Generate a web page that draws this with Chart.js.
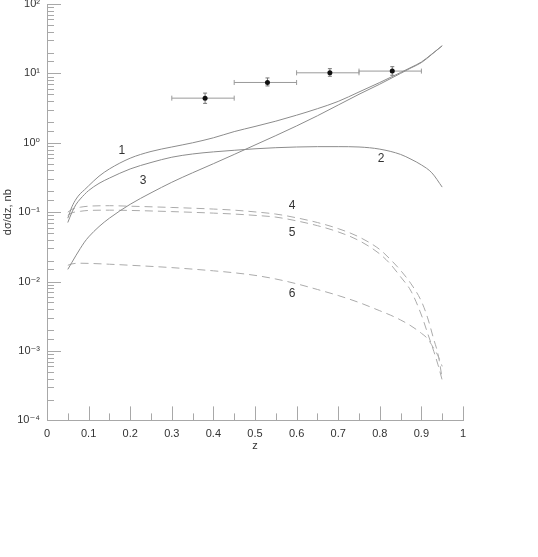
<!DOCTYPE html>
<html><head><meta charset="utf-8">
<script src="https://cdn.jsdelivr.net/npm/chart.js@4/dist/chart.umd.min.js"></script>
<style>html,body{margin:0;padding:0;background:#fff}#c{display:block}</style>
</head><body>
<canvas id="c" width="538" height="557"></canvas>
<script>
// ---- data ----
const zSolid = [0.05, 0.06, 0.07, 0.08, 0.09, 0.1, 0.125, 0.15, 0.2, 0.25, 0.3, 0.35, 0.4, 0.45, 0.5, 0.55, 0.6, 0.65, 0.7, 0.75, 0.8, 0.85, 0.875, 0.9, 0.925, 0.95];
const curve1 = [0.082, 0.12, 0.155, 0.185, 0.21, 0.24, 0.33, 0.42, 0.6, 0.75, 0.87, 1.0, 1.18, 1.45, 1.72, 2.05, 2.5, 3.1, 3.95, 5.4, 7.4, 10.3, 12.2, 14.6, 19.0, 25.0];
const curve2 = [0.071, 0.1, 0.13, 0.155, 0.18, 0.205, 0.26, 0.31, 0.42, 0.52, 0.62, 0.69, 0.74, 0.78, 0.82, 0.85, 0.87, 0.88, 0.88, 0.87, 0.81, 0.68, 0.58, 0.48, 0.37, 0.23];
const curve3 = [0.015, 0.019, 0.024, 0.03, 0.037, 0.044, 0.062, 0.082, 0.13, 0.19, 0.27, 0.37, 0.5, 0.68, 0.93, 1.27, 1.75, 2.45, 3.5, 5.0, 7.0, 10.0, 12.0, 14.3, 18.8, 25.0];

const zDash = [0.05, 0.06, 0.08, 0.1, 0.15, 0.2, 0.3, 0.4, 0.45, 0.5, 0.55, 0.6, 0.65, 0.7, 0.75, 0.8, 0.825, 0.85, 0.875, 0.9, 0.915, 0.93, 0.94, 0.95];
const curve4 = [0.10, 0.11, 0.118, 0.122, 0.124, 0.122, 0.117, 0.111, 0.107, 0.101, 0.094, 0.083, 0.071, 0.058, 0.044, 0.029, 0.021, 0.0145, 0.0093, 0.0052, 0.0030, 0.00145, 0.0009, 0.0004];
const curve5 = [0.09, 0.098, 0.103, 0.106, 0.107, 0.106, 0.102, 0.097, 0.094, 0.090, 0.085, 0.075, 0.064, 0.052, 0.039, 0.025, 0.018, 0.0117, 0.0073, 0.0033, 0.0018, 0.00098, 0.00063, 0.00038];
const curve6 = [0.0172, 0.018, 0.0184, 0.0183, 0.0178, 0.0172, 0.0159, 0.0143, 0.0134, 0.0123, 0.0109, 0.0093, 0.0077, 0.0063, 0.0050, 0.0038, 0.0033, 0.0028, 0.0023, 0.0018, 0.0015, 0.00108, 0.00085, 0.0006];

const dataZ    = [0.38, 0.53, 0.68, 0.83];
const dataY    = [4.4, 7.4, 10.2, 10.8];
const dataZlo  = [0.30, 0.45, 0.60, 0.75];
const dataZhi  = [0.45, 0.60, 0.75, 0.90];
const dataYlo  = [3.7, 6.6, 9.1, 9.4];
const dataYhi  = [5.2, 8.6, 11.7, 12.5];

const curveLabels = ['1', '2', '3', '4', '5', '6'];
const labelZ = [0.18, 0.803, 0.231, 0.589, 0.589, 0.589];
const labelY = [0.78, 0.60, 0.28, 0.126, 0.050, 0.0066];

const xTickLabels = ['0', '0.1', '0.2', '0.3', '0.4', '0.5', '0.6', '0.7', '0.8', '0.9', '1'];
// ---- end data ----

const SUP = {'0':'\u2070','1':'\u00B9','2':'\u00B2','3':'\u00B3','4':'\u2074','5':'\u2075','6':'\u2076','7':'\u2077','8':'\u2078','9':'\u2079','-':'\u207B'};
function powLabel(v){
  const e = Math.round(Math.log10(v));
  if (Math.abs(v - Math.pow(10, e)) / Math.pow(10, e) > 1e-6) return '';
  return '10' + String(e).split('').map(c => SUP[c]).join('');
}
function pts(xs, ys){ return xs.map((x, i) => ({x: x, y: ys[i]})); }

const FONT = "'Liberation Sans', 'DejaVu Sans', Arial, sans-serif";
const SOLID = '#8c8c8c';
const DASH = '#ababab';

const decor = {
  id: 'decor',
  beforeDatasetsDraw(chart){
    const ctx = chart.ctx, xs = chart.scales.x, ys = chart.scales.y;
    ctx.save();
    ctx.lineWidth = 1;
    for (let i = 0; i < dataZ.length; i++){
      const px = xs.getPixelForValue(dataZ[i]);
      const py = ys.getPixelForValue(dataY[i]);
      const x0 = xs.getPixelForValue(dataZlo[i]), x1 = xs.getPixelForValue(dataZhi[i]);
      const y0 = ys.getPixelForValue(dataYlo[i]), y1 = ys.getPixelForValue(dataYhi[i]);
      ctx.strokeStyle = '#9a9a9a';
      ctx.beginPath();
      ctx.moveTo(x0, py); ctx.lineTo(x1, py);
      ctx.moveTo(x0, py - 2.5); ctx.lineTo(x0, py + 2.5);
      ctx.moveTo(x1, py - 2.5); ctx.lineTo(x1, py + 2.5);
      ctx.stroke();
      ctx.strokeStyle = '#777';
      ctx.beginPath();
      ctx.moveTo(px, y0); ctx.lineTo(px, y1);
      ctx.moveTo(px - 2, y0); ctx.lineTo(px + 2, y0);
      ctx.moveTo(px - 2, y1); ctx.lineTo(px + 2, y1);
      ctx.stroke();
    }
    ctx.restore();
  },
  afterDraw(chart){
    const ctx = chart.ctx, xs = chart.scales.x, ys = chart.scales.y, a = chart.chartArea;
    ctx.save();
    ctx.strokeStyle = '#a8a8a8';
    ctx.lineWidth = 1;
    ctx.beginPath();
    ys.ticks.forEach(t => {
      const p = Math.round(ys.getPixelForValue(t.value)) + 0.5;
      const len = powLabel(t.value) ? 14 : 7;
      ctx.moveTo(a.left, p); ctx.lineTo(a.left + len, p);
    });
    xs.ticks.forEach(t => {
      const p = Math.round(xs.getPixelForValue(t.value)) + 0.5;
      const major = Math.abs(Math.round(t.value * 10) - t.value * 10) < 1e-6;
      const len = major ? 14 : 7;
      ctx.moveTo(p, a.bottom); ctx.lineTo(p, a.bottom - len);
    });
    ctx.stroke();
    ctx.fillStyle = '#333';
    ctx.font = '12px ' + FONT;
    ctx.textAlign = 'center';
    ctx.textBaseline = 'middle';
    curveLabels.forEach((s, i) => {
      ctx.fillText(s, xs.getPixelForValue(labelZ[i]), ys.getPixelForValue(labelY[i]));
    });
    ctx.restore();
  }
};

function lineDs(xs, ys, dashed){
  return {
    type: 'line', data: pts(xs, ys),
    borderColor: dashed ? DASH : SOLID, borderWidth: 1,
    borderDash: dashed ? [8, 5] : [],
    pointRadius: 0, tension: 0.35, cubicInterpolationMode: 'monotone', fill: false
  };
}

new Chart(document.getElementById('c'), {
  type: 'scatter',
  data: {
    datasets: [
      lineDs(zSolid, curve1, false),
      lineDs(zSolid, curve2, false),
      lineDs(zSolid, curve3, false),
      lineDs(zDash, curve4, true),
      lineDs(zDash, curve5, true),
      lineDs(zDash, curve6, true),
      { type: 'scatter', data: pts(dataZ, dataY), pointRadius: 2.5,
        pointBackgroundColor: '#111', pointBorderColor: '#111', pointBorderWidth: 0 }
    ]
  },
  options: {
    responsive: false, animation: false, devicePixelRatio: 1,
    layout: { padding: { left: 0, top: 4, right: 75, bottom: 104 } },
    plugins: { legend: { display: false }, tooltip: { enabled: false } },
    scales: {
      x: {
        type: 'linear', min: 0, max: 1,
        grid: { display: true, drawOnChartArea: false, drawTicks: false },
        border: { display: true, color: '#a8a8a8', width: 1 },
        ticks: {
          stepSize: 0.05, autoSkip: false, maxRotation: 0, padding: 7,
          color: '#333', font: { family: FONT, size: 11 },
          callback: (v) => {
            const k = Math.round(v * 100);
            return k % 10 === 0 ? xTickLabels[k / 10] : '';
          }
        },
        title: { display: true, text: 'z', color: '#333', font: { family: FONT, size: 11 }, padding: { top: 0, bottom: 0 } },
        afterFit: (s) => { s.height = 32.6; s.paddingLeft = 0; s.paddingRight = 0; }
      },
      y: {
        type: 'logarithmic', min: 1e-4, max: 1e2,
        grid: { display: true, drawOnChartArea: false, drawTicks: false },
        border: { display: true, color: '#a8a8a8', width: 1 },
        ticks: {
          autoSkip: false, padding: 7,
          color: '#333', font: { family: FONT, size: 11 },
          callback: (v) => powLabel(v)
        },
        title: { display: true, text: 'd\u03C3/dz, nb', color: '#333', font: { family: FONT, size: 11 }, padding: { top: 1, bottom: 0 } },
        afterFit: (s) => { s.width = 47; s.paddingTop = 0; s.paddingBottom = 0; }
      }
    }
  },
  plugins: [decor]
});
</script>
</body></html>
